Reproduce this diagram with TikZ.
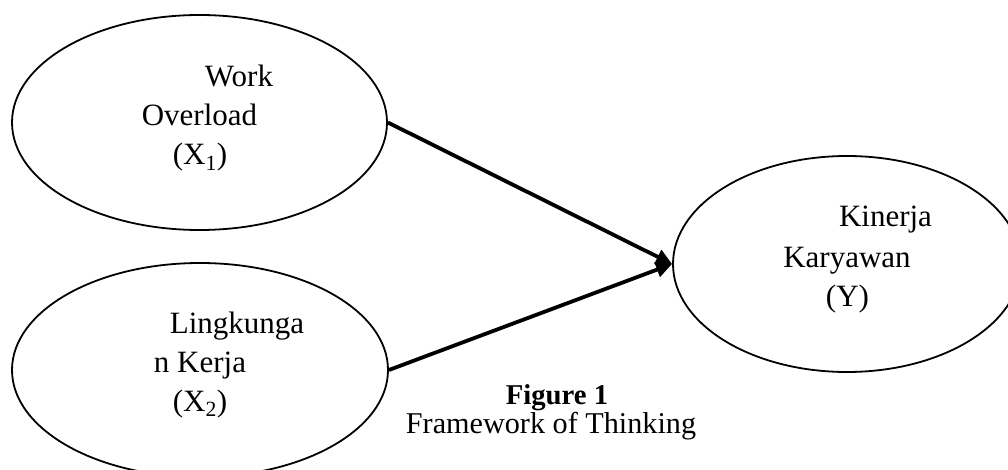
\documentclass[tikz,border=0pt]{standalone}
\usepackage{fontspec}
\setmainfont{Liberation Serif}
\usetikzlibrary{shapes.geometric,arrows.meta}
\tikzset{
  var/.style={ellipse, draw, line width=1.8pt, inner sep=0pt},
  lbl/.style={anchor=base, inner sep=0pt, font=\fontsize{31}{39}\selectfont},
  captext/.style={anchor=base, inner sep=0pt, font=\fontsize{30.2}{32}\selectfont},
  link/.style={line width=3.8pt, -{Triangle[length=16pt,width=15pt]}}
}
\begin{document}
\begin{tikzpicture}[x=1pt,y=-1pt]
\useasboundingbox (0,0) rectangle (1008,470);
% ellipses
\node[var, minimum width=375pt, minimum height=215pt] (x1) at (199.5,122.5) {};
\node[var, minimum width=376pt, minimum height=214pt] (x2) at (200,370) {};
\node[var, minimum width=348pt, minimum height=216pt] (y) at (847,264) {};
% labels
\node[lbl] (x1a) at (239,87) {Work};
\node[lbl] (x1b) at (199.5,126) {Overload};
\node[lbl] (x1c) at (200,165) {(X\textsubscript{1})};
\node[lbl] (x2a) at (237,333) {Lingkunga};
\node[lbl] (x2b) at (200,372) {n Kerja};
\node[lbl] (x2c) at (200,411) {(X\textsubscript{2})};
\node[lbl] (ya) at (885.5,227) {Kinerja};
\node[lbl] (yb) at (847,267) {Karyawan};
\node[lbl] (yc) at (847.5,306) {(Y)};
% caption
\node[captext, font=\fontsize{28.7}{30}\selectfont\bfseries] (fig) at (557,404) {Figure 1};
\node[captext] (figsub) at (551,433) {Framework of Thinking};
% connectors
\draw[link] (x1.east) -- (y.west);
\draw[link] (x2.east) -- (y.west);
\end{tikzpicture}
\end{document}
